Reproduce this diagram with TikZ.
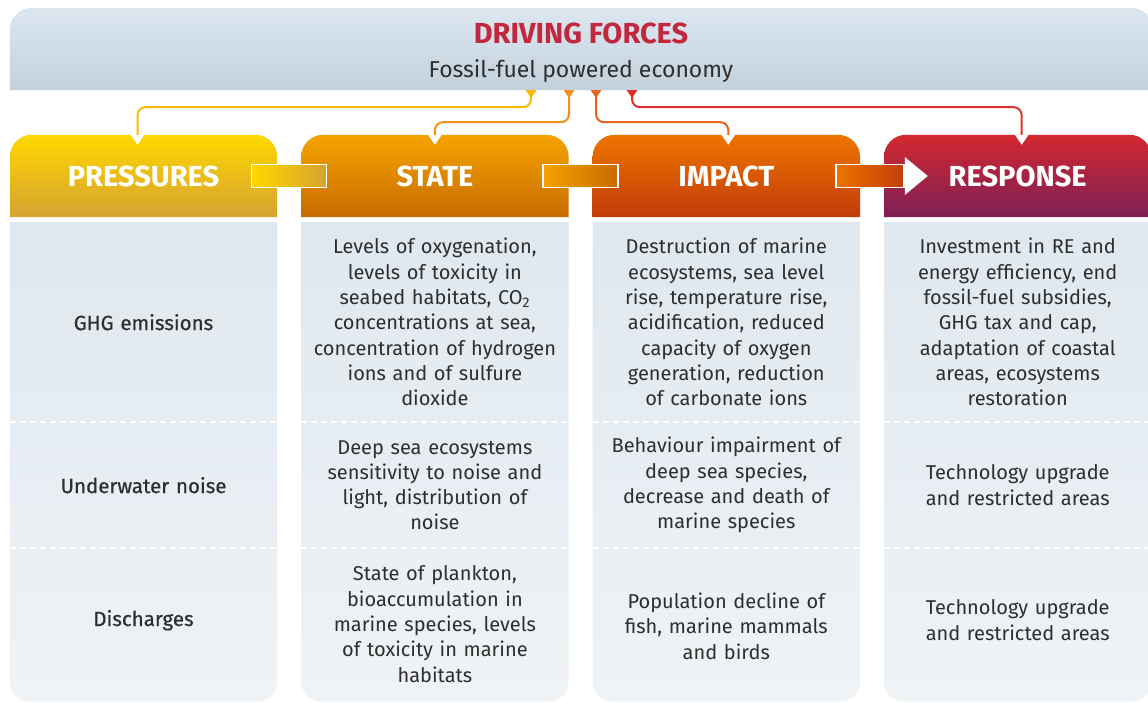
\documentclass[tikz,border=0pt]{standalone}
\usepackage{fontspec}
\setmainfont{Fira Sans}
\usetikzlibrary{arrows.meta,positioning,backgrounds,calc}
\definecolor{dfred}{HTML}{C1273D}
\definecolor{txt}{HTML}{2E2E2E}
\definecolor{bantop}{HTML}{DCE7F0}
\definecolor{banbot}{HTML}{C3D1DC}
\definecolor{bodytop}{HTML}{DFE8EF}
\definecolor{bodybot}{HTML}{EFF3F6}
\definecolor{yeltop}{HTML}{FDD800}
\definecolor{yelbot}{HTML}{D6A232}
\definecolor{orgtop}{HTML}{F5A300}
\definecolor{orgbot}{HTML}{C86B00}
\definecolor{imptop}{HTML}{EE7400}
\definecolor{impbot}{HTML}{C13C0A}
\definecolor{restop}{HTML}{D3282F}
\definecolor{resbot}{HTML}{7C1F55}
\definecolor{lnyel}{HTML}{FBBA00}
\definecolor{lnorg}{HTML}{F0901A}
\definecolor{lnimp}{HTML}{E8641C}
\definecolor{lnred}{HTML}{E0302A}
% top rounded box behind a node, bottom rounded box behind a node
\newcommand\headbox[3]{\shade[top color=#2,bottom color=#3] (#1.south west) [rounded corners=22pt] -- (#1.north west) -- (#1.north east) [sharp corners] -- (#1.south east) -- cycle;}
\newcommand\bodybox[1]{\shade[top color=bodytop,bottom color=bodybot] (#1.north west) -- (#1.north east) [rounded corners=20pt] -- (#1.south east) -- (#1.south west) [sharp corners] -- cycle;}

\begin{document}
\begin{tikzpicture}[x=1pt,y=-1pt,node distance=24pt,
head/.style={minimum width=267pt,minimum height=82pt,inner sep=0pt,text=white,font=\fontsize{29}{32}\selectfont\bfseries},
col/.style={minimum width=267pt,minimum height=479pt,inner sep=0pt},
cell/.style={text width=264pt,align=center,inner sep=0pt,text=txt,font=\fontsize{20}{25.3}\selectfont},
lbl/.style={cell,font=\fontsize{20.5}{25.3}\selectfont\addfontfeatures{FakeBold=0.6}},
bar/.style={draw=white,line width=1.5pt,minimum height=23pt,inner sep=0pt},
link/.style={line width=2pt,rounded corners=8pt,{Triangle[reversed,length=8pt,width=10pt]}-{Triangle[color=white,length=10pt,width=13pt]}},
sep/.style={white,line width=2pt,dash pattern=on 6pt off 4pt}]
\useasboundingbox (0,0) rectangle (1148,702);

% driving forces banner
\node[minimum width=1143pt,minimum height=82pt,inner sep=0pt] (drive) at (581.5,49) {};
\node[anchor=base,text=dfred,font=\fontsize{29}{32}\selectfont\bfseries] (dftitle) at (581,43) {DRIVING FORCES};
\node[anchor=base,text=txt,font=\fontsize{23}{26}\selectfont] (dfsub) at (581,77) {Fossil-fuel powered economy};

% column headers
\node[head] (pres) at (143.5,176) {PRESSURES};
\node[head,right=of pres] (state) {STATE};
\node[head,right=of state] (impact) {IMPACT};
\node[head,right=of impact] (resp) {RESPONSE};

% column bodies
\node[col,below=5pt of pres] (presbody) {};
\node[col,below=5pt of state] (statebody) {};
\node[col,below=5pt of impact] (impbody) {};
\node[col,below=5pt of resp] (respbody) {};

% links between headers
\node[bar,minimum width=75pt,left color=yeltop,right color=yelbot] (ps) at ($(pres.east)!.5!(state.west)$) {};
\node[bar,minimum width=75pt,left color=orgtop,right color=orgbot] (si) at ($(state.east)!.5!(impact.west)$) {};
\node[bar,minimum width=68pt,left color=imptop,right color=impbot] (ir) at ([xshift=-2pt]$(impact.east)!.5!(resp.west)$) {};
\fill[white] ([yshift=19pt]ir.east) -- ([xshift=23pt]ir.east) -- ([yshift=-19pt]ir.east) -- cycle;

% driving forces to headers
\draw[link,lnyel] ([xshift=-50.5pt]drive.south) -- ++(0,17) -| ([xshift=-6pt,yshift=-10pt]pres.north);
\draw[link,lnorg] ([xshift=-12.5pt]drive.south) -- ++(0,32) -| ([yshift=-10pt]state.north);
\draw[link,lnimp] ([xshift=14.5pt]drive.south) -- ++(0,32) -| ([xshift=2pt,yshift=-10pt]impact.north);
\draw[link,lnred] ([xshift=50.5pt]drive.south) -- ++(0,17) -| ([xshift=4pt,yshift=-10pt]resp.north);

% rows
\node[lbl] (ghg) at ([yshift=-100pt]presbody.north) {GHG emissions};
\node[lbl] (noise) at ([yshift=-263pt]presbody.north) {Underwater noise};
\node[lbl] (disch) at ([yshift=-398pt]presbody.north) {Discharges};

\node[cell] (state1) at ([yshift=-100pt]statebody.north) {Levels of oxygenation,\\ levels of toxicity in\\ seabed habitats, CO\textsubscript{2}\\ concentrations at sea,\\ concentration of hydrogen\\ ions and of sulfure\\ dioxide};
\node[cell] (state2) at ([yshift=-263pt]statebody.north) {Deep sea ecosystems\\ sensitivity to noise and\\ light, distribution of\\ noise};
\node[cell] (state3) at ([yshift=-402pt]statebody.north) {State of plankton,\\ bioaccumulation in\\ marine species, levels\\ of toxicity in marine\\ habitats};

\node[cell] (imp1) at ([yshift=-100pt]impbody.north) {Destruction of marine\\ ecosystems, sea level\\ rise, temperature rise,\\ acidification, reduced\\ capacity of oxygen\\ generation, reduction\\ of carbonate ions};
\node[cell] (imp2) at ([yshift=-263pt]impbody.north) {Behaviour impairment of\\ deep sea species,\\ decrease and death of\\ marine species};
\node[cell] (imp3) at ([yshift=-404pt]impbody.north) {Population decline of\\ fish, marine mammals\\ and birds};

\node[cell] (resp1) at ([yshift=-100pt]respbody.north) {Investment in RE and\\ energy efficiency, end\\ fossil-fuel subsidies,\\ GHG tax and cap,\\ adaptation of coastal\\ areas, ecosystems\\ restoration};
\node[cell] (resp2) at ([yshift=-263pt]respbody.north) {Technology upgrade\\ and restricted areas};
\node[cell] (resp3) at ([yshift=-398pt]respbody.north) {Technology upgrade\\ and restricted areas};

\begin{scope}[on background layer]
\headbox{drive}{bantop}{banbot}
\headbox{pres}{yeltop}{yelbot}
\headbox{state}{orgtop}{orgbot}
\headbox{impact}{imptop}{impbot}
\headbox{resp}{restop}{resbot}
\foreach \c in {presbody,statebody,impbody,respbody}{
  \bodybox{\c}
  \draw[sep] ([yshift=-200pt]\c.north west) -- ([yshift=-200pt]\c.north east);
  \draw[sep] ([yshift=-326pt]\c.north west) -- ([yshift=-326pt]\c.north east);
}
\end{scope}
\end{tikzpicture}
\end{document}
